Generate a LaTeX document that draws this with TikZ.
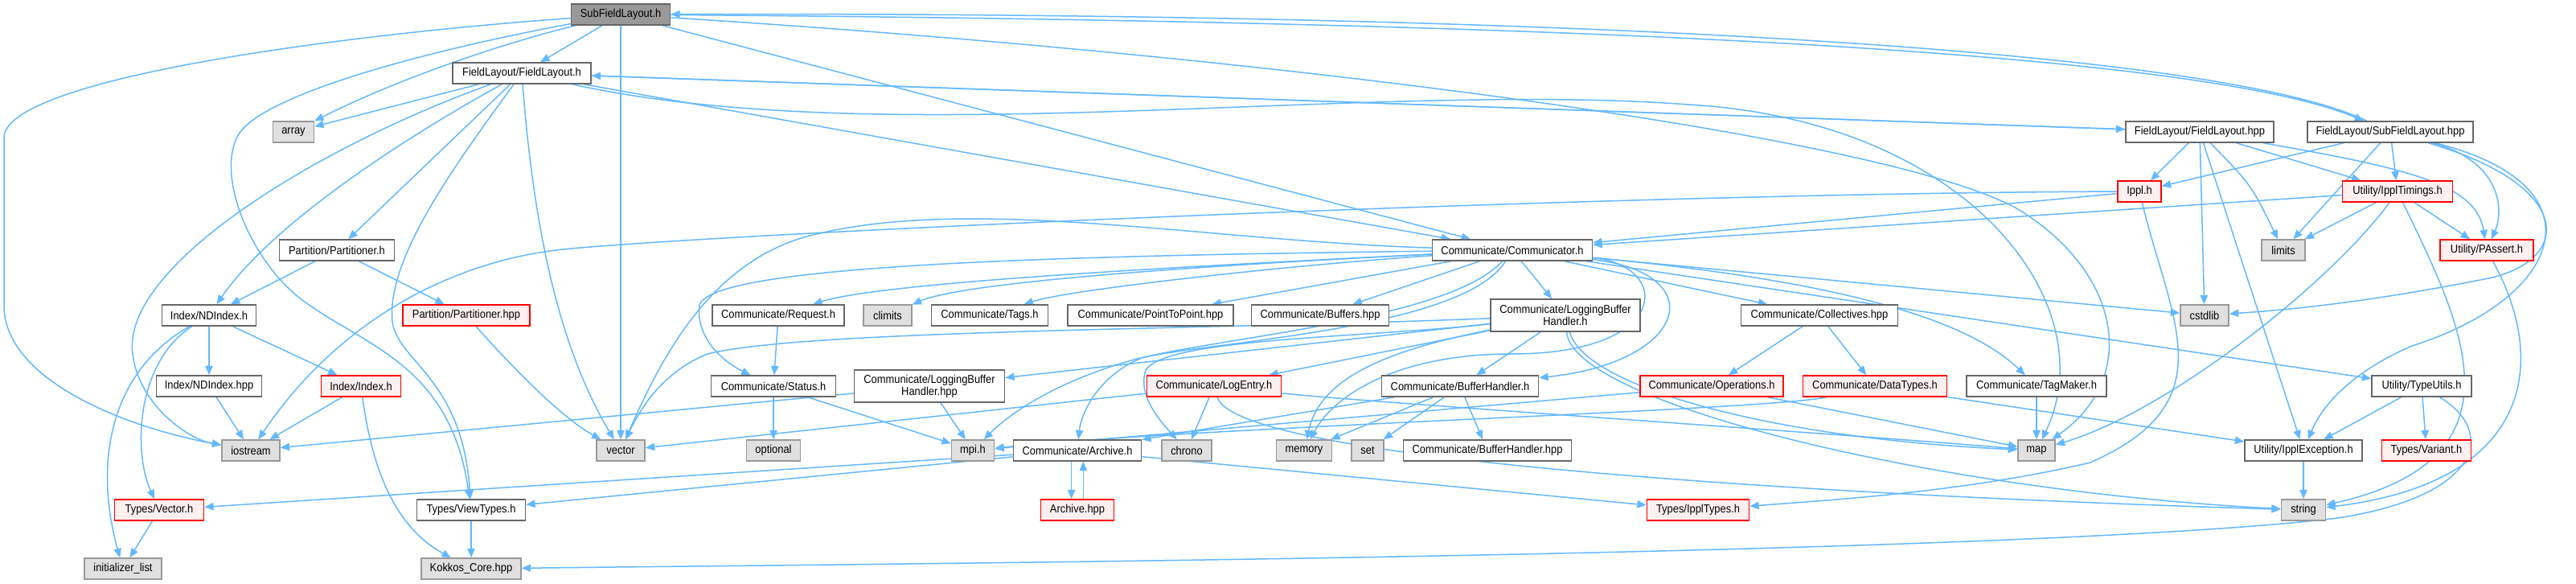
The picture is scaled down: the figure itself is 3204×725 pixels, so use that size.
\documentclass[tikz,border=0pt]{standalone}
\usepackage{fontspec}
\setmainfont{Liberation Sans}[FakeStretch=0.9]
\usetikzlibrary{arrows.meta}
\definecolor{edgec}{HTML}{63B8FF}
\definecolor{bord}{HTML}{666666}
\definecolor{greyb}{HTML}{999999}
\definecolor{greyf}{HTML}{E0E0E0}
\definecolor{redb}{HTML}{FF0000}
\definecolor{redf}{HTML}{FFF0F0}
\newcommand{\nfont}{\fontsize{4.3pt}{4.6pt}\selectfont}
\pgfdeclarelayer{bg}
\pgfsetlayers{bg,main}
\tikzset{
  box/.style={draw=bord, fill=white, line width=0.45pt, minimum height=7.8pt, inner sep=0pt, font=\nfont, align=center},
  sys/.style={box, draw=greyb, fill=greyf},
  trunc/.style={box, draw=redb, fill=redf},
  rootn/.style={box, fill=greyb},
  bw/.style={minimum width=#1*0.3pt},
  tall/.style={minimum height=12pt},
  e/.style={draw=edgec, line width=0.45pt, -{Triangle[length=3.4pt,width=2.8pt]}}
}
\begin{document}
\begin{tikzpicture}[x=0.3pt,y=-0.3pt]
\useasboundingbox (0,0) rectangle (3204,725);
% row 0
\node[rootn,bw=123] (S) at (772,18) {SubFieldLayout.h};
% row 1
\node[box,bw=172] (FL) at (649,91) {FieldLayout/FieldLayout.h};
% row 2
\node[sys,bw=51] (array) at (365,164) {array};
\node[box,bw=184] (FLhpp) at (2736,164) {FieldLayout/FieldLayout.hpp};
\node[box,bw=206] (SFLhpp) at (2973,164) {FieldLayout/SubFieldLayout.hpp};
% row 3
\node[trunc,bw=54] (Ippl) at (2661,238) {Ippl.h};
\node[trunc,bw=137] (Timings) at (2982,238) {Utility/IpplTimings.h};
% row 4
\node[box,bw=143] (Part) at (419,311) {Partition/Partitioner.h};
\node[box,bw=199] (Comm) at (1881,311) {Communicate/Communicator.h};
\node[sys,bw=54] (limits) at (2840,311) {limits};
\node[trunc,bw=116] (PAssert) at (3093,311) {Utility/PAssert.h};
% row 5
\node[box,bw=117] (NDIndex) at (260,392) {Index/NDIndex.h};
\node[trunc,bw=158] (Parthpp) at (580,392) {Partition/Partitioner.hpp};
\node[box,bw=164] (Request) at (968,392) {Communicate/Request.h};
\node[sys,bw=60] (climits) at (1104,392) {climits};
\node[box,bw=145] (Tags) at (1231,392) {Communicate/Tags.h};
\node[box,bw=206] (P2P) at (1431,392) {Communicate/PointToPoint.hpp};
\node[box,bw=171] (Buffers) at (1642,392) {Communicate/Buffers.hpp};
\node[box,bw=186,tall] (LBH) at (1947,392) {Communicate/LoggingBuffer\\Handler.h};
\node[box,bw=195] (Coll) at (2263,392) {Communicate/Collectives.hpp};
\node[sys,bw=60] (cstdlib) at (2742,392) {cstdlib};
% row 6
\node[box,bw=131] (NDIndexhpp) at (260,480) {Index/NDIndex.hpp};
\node[trunc,bw=99] (Index) at (449,480) {Index/Index.h};
\node[box,bw=155] (Status) at (962,480) {Communicate/Status.h};
\node[box,bw=187,tall] (LBHhpp) at (1156,480) {Communicate/LoggingBuffer\\Handler.hpp};
\node[trunc,bw=167] (LogEntry) at (1510,480) {Communicate/LogEntry.h};
\node[box,bw=195] (BH) at (1816,480) {Communicate/BufferHandler.h};
\node[trunc,bw=178] (Ops) at (2129,480) {Communicate/Operations.h};
\node[trunc,bw=179] (DT) at (2332,480) {Communicate/DataTypes.h};
\node[box,bw=174] (TagMaker) at (2533,480) {Communicate/TagMaker.h};
\node[box,bw=124] (TypeUtils) at (3012,480) {Utility/TypeUtils.h};
% row 7
\node[sys,bw=72] (iostream) at (312,560) {iostream};
\node[sys,bw=60] (vector) at (772,560) {vector};
\node[sys,bw=67] (optional) at (962,560) {optional};
\node[sys,bw=53] (mpi) at (1210,560) {mpi.h};
\node[box,bw=159] (Archive) at (1340,560) {Communicate/Archive.h};
\node[sys,bw=62] (chrono) at (1476,560) {chrono};
\node[sys,bw=69] (memory) at (1622,560) {memory};
\node[sys,bw=40] (set) at (1701,560) {set};
\node[box,bw=209] (BHhpp) at (1850,560) {Communicate/BufferHandler.hpp};
\node[sys,bw=46] (map) at (2533,560) {map};
\node[box,bw=146] (IpplExc) at (2865,560) {Utility/IpplException.h};
\node[trunc,bw=111] (Variant) at (3018,560) {Types/Variant.h};
% row 8
\node[trunc,bw=111] (Vector) at (198,634) {Types/Vector.h};
\node[box,bw=135] (ViewTypes) at (586,634) {Types/ViewTypes.h};
\node[trunc,bw=91] (Archivehpp) at (1340,634) {Archive.hpp};
\node[trunc,bw=127] (IpplTypes) at (2112,634) {Types/IpplTypes.h};
\node[sys,bw=55] (string) at (2865,634) {string};
% row 9
\node[sys,bw=96] (initlist) at (153,707) {initializer\_list};
\node[sys,bw=124] (Kokkos) at (586,707) {Kokkos\_Core.hpp};

\begin{pgfonlayer}{bg}
% SubFieldLayout.h
\draw[e] (S) -- (FL);
\draw[e] (S) .. controls (600,60) and (470,110) .. (array);
\draw[e] (S) .. controls (400,45) and (10,100) .. (5,170) -- (5,380) .. controls (5,470) and (150,530) .. (iostream);
\draw[e] (S) .. controls (520,65) and (320,120) .. (295,170) .. controls (270,220) and (310,320) .. (372,370) .. controls (450,430) and (560,450) .. (ViewTypes);
\draw[e] (S) -- (vector);
\draw[e] (S) -- (Comm);
\draw[e] (S) .. controls (1700,25) and (2700,50) .. (SFLhpp);
\draw[e] (SFLhpp) .. controls (2720,45) and (1700,15) .. (S);
\draw[e] (S) .. controls (1600,70) and (2350,170) .. (2510,260) .. controls (2640,340) and (2660,470) .. (map);
% FieldLayout.h
\draw[e] (FL) -- (array);
\draw[e] (FL) .. controls (400,180) and (150,330) .. (165,440) .. controls (172,500) and (230,545) .. (iostream);
\draw[e] (FL) .. controls (470,190) and (330,290) .. (NDIndex);
\draw[e] (FL) -- (Part);
\draw[e] (FL) .. controls (570,200) and (480,320) .. (488,400) .. controls (495,450) and (575,470) .. (ViewTypes);
\draw[e] (FL) .. controls (665,300) and (700,440) .. (vector);
\draw[e] (FL) -- (FLhpp);
\draw[e] (FLhpp) -- (FL);
\draw[e] (FL) -- (Comm);
\draw[e] (FL) .. controls (1100,190) and (1700,100) .. (2100,130) .. controls (2450,150) and (2620,380) .. (map);
% FieldLayout.hpp
\draw[e] (FLhpp) -- (Ippl);
\draw[e] (FLhpp) -- (cstdlib);
\draw[e] (FLhpp) -- (IpplExc);
\draw[e] (FLhpp) .. controls (2800,230) .. (limits);
\draw[e] (FLhpp) -- (Timings);
\draw[e] (FLhpp) .. controls (3000,210) and (3080,230) .. (PAssert);
% SubFieldLayout.hpp
\draw[e] (SFLhpp) -- (Ippl);
\draw[e] (SFLhpp) -- (limits);
\draw[e] (SFLhpp) -- (Timings);
\draw[e] (SFLhpp) .. controls (3110,200) and (3115,260) .. (PAssert);
\draw[e] (SFLhpp) .. controls (3200,230) and (3200,320) .. (3100,345) .. controls (2950,375) and (2850,385) .. (cstdlib);
\draw[e] (SFLhpp) .. controls (3240,230) and (3190,370) .. (3000,430) .. controls (2930,460) and (2890,500) .. (IpplExc);
% Ippl.h
\draw[e] (Ippl) .. controls (2000,240) and (900,290) .. (700,310) .. controls (560,325) and (420,400) .. (iostream);
\draw[e] (Ippl) -- (Comm);
\draw[e] (Ippl) .. controls (2700,400) and (2770,500) .. (2600,575) .. controls (2450,610) and (2300,620) .. (IpplTypes);
% IpplTimings.h
\draw[e] (Timings) -- (Comm);
\draw[e] (Timings) -- (limits);
\draw[e] (Timings) -- (PAssert);
\draw[e] (Timings) .. controls (2900,350) and (2700,510) .. (map);
\draw[e] (Timings) .. controls (3060,400) and (3150,570) .. (string);
\draw[e] (PAssert) .. controls (3170,450) and (3150,600) .. (string);
% Partitioner
\draw[e] (Part) -- (NDIndex);
\draw[e] (Part) -- (Parthpp);
\draw[e] (Parthpp) .. controls (640,460) and (700,520) .. (vector);
% NDIndex
\draw[e] (NDIndex) -- (NDIndexhpp);
\draw[e] (NDIndex) -- (Index);
\draw[e] (NDIndex) .. controls (170,450) and (165,560) .. (Vector);
\draw[e] (NDIndex) .. controls (140,460) and (115,570) .. (initlist);
\draw[e] (NDIndexhpp) -- (iostream);
\draw[e] (Index) -- (iostream);
\draw[e] (Index) .. controls (465,600) and (500,660) .. (Kokkos);
\draw[e] (Vector) -- (initlist);
\draw[e] (ViewTypes) -- (Kokkos);
% Communicator.h
\draw[e] (Comm) .. controls (1500,330) and (1100,350) .. (Request);
\draw[e] (Comm) .. controls (1500,330) and (1200,350) .. (climits);
\draw[e] (Comm) .. controls (1600,330) and (1330,360) .. (Tags);
\draw[e] (Comm) -- (P2P);
\draw[e] (Comm) -- (Buffers);
\draw[e] (Comm) -- (LBH);
\draw[e] (Comm) -- (Coll);
\draw[e] (Comm) -- (cstdlib);
\draw[e] (Comm) -- (TypeUtils);
\draw[e] (Comm) .. controls (2300,350) and (2450,400) .. (TagMaker);
\draw[e] (Comm) .. controls (1300,318) and (880,330) .. (870,380) .. controls (865,420) and (900,450) .. (Status);
\draw[e] (Comm) .. controls (1500,300) and (1200,240) .. (1000,295) .. controls (880,330) and (820,450) .. (vector);
\draw[e] (Comm) .. controls (1800,400) and (1500,420) .. (1400,450) .. controls (1300,480) and (1250,520) .. (mpi);
\draw[e] (Comm) .. controls (1820,410) and (1500,425) .. (1420,445) .. controls (1370,465) and (1345,510) .. (Archive);
\draw[e] (Comm) .. controls (2130,340) and (2100,450) .. (BH);
\draw[e] (Comm) .. controls (2080,330) and (2080,440) .. (1880,440) .. controls (1740,440) and (1660,490) .. (memory);
% LoggingBufferHandler.h
\draw[e] (LBH) -- (LogEntry);
\draw[e] (LBH) -- (BH);
\draw[e] (LBH) -- (LBHhpp);
\draw[e] (LBH) .. controls (1700,440) and (1640,480) .. (memory);
\draw[e] (LBH) .. controls (1970,480) and (2200,545) .. (map);
\draw[e] (LBH) .. controls (1955,500) and (2400,610) .. (string);
\draw[e] (LBH) .. controls (1500,410) and (1000,410) .. (880,440) .. controls (830,460) and (800,500) .. (vector);
\draw[e] (LBH) .. controls (1700,420) and (1450,420) .. (1425,460) .. controls (1415,490) and (1440,520) .. (chrono);
% others
\draw[e] (LBHhpp) -- (mpi);
\draw[e] (LBHhpp) -- (iostream);
\draw[e] (Request) -- (Status);
\draw[e] (Status) -- (optional);
\draw[e] (Status) -- (mpi);
\draw[e] (LogEntry) -- (vector);
\draw[e] (LogEntry) -- (chrono);
\draw[e] (LogEntry) .. controls (1540,580) and (2400,620) .. (string);
\draw[e] (LogEntry) .. controls (1700,500) and (2300,540) .. (map);
\draw[e] (BH) -- (memory);
\draw[e] (BH) -- (set);
\draw[e] (BH) -- (BHhpp);
\draw[e] (BH) -- (Archive);
\draw[e] ([xshift=-2.2pt]Archive.south) -- ([xshift=-2.2pt]Archivehpp.north);
\draw[e] ([xshift=2.2pt]Archivehpp.north) -- ([xshift=2.2pt]Archive.south);
\draw[e] (Archive) -- (Vector);
\draw[e] (Archive) -- (ViewTypes);
\draw[e] (Archive) -- (IpplTypes);
\draw[e] (Coll) -- (Ops);
\draw[e] (Coll) -- (DT);
\draw[e] (Ops) -- (mpi);
\draw[e] (Ops) -- (map);
\draw[e] (DT) .. controls (2200,510) and (1500,530) .. (mpi);
\draw[e] (DT) -- (IpplExc);
\draw[e] (TagMaker) -- (map);
\draw[e] (TypeUtils) -- (IpplExc);
\draw[e] (TypeUtils) -- (Variant);
\draw[e] (TypeUtils) .. controls (3110,540) and (3080,620) .. (2900,645) .. controls (2500,690) and (1200,700) .. (Kokkos);
\draw[e] (IpplExc) -- (string);
\end{pgfonlayer}
\end{tikzpicture}
\end{document}
